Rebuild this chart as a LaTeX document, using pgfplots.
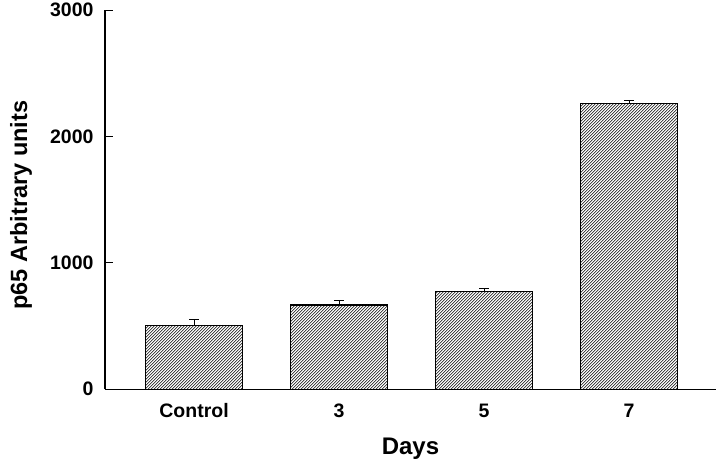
\documentclass[border=0pt]{standalone}
\usepackage{fontspec}
\setmainfont{Liberation Sans}
\usepackage{pgfplots}
\pgfplotsset{compat=1.18}
\usetikzlibrary{patterns}
\begin{document}
\begin{tikzpicture}
\begin{axis}[
  scale only axis,
  width=611pt, height=379pt,
  xmin=-0.614, xmax=3.6, ymin=0, ymax=3000,
  ybar, bar width=97pt,
  axis x line=bottom, axis y line=left,
  axis line style={-, line width=1.2pt, black},
  xtick={0,1,2,3}, xticklabels={Control,3,5,7},
  x tick style={draw=none},
  ytick={0,1000,2000,3000},
  tick align=inside, major tick length=8pt,
  y tick style={line width=1pt, black},
  /pgf/number format/assume math mode=true,
  /pgf/number format/set thousands separator={},
  tick label style={font=\fontsize{19.5}{19.5}\selectfont\bfseries},
  yticklabel style={xshift=-8pt},
  xticklabel style={yshift=-11pt},
  xlabel={Days},
  xlabel style={font=\fontsize{24}{24}\selectfont\bfseries, at={(axis description cs:0.5,0)}, anchor=north, inner sep=0pt, yshift=-49pt},
  ylabel={p65 Arbitrary units},
  ylabel style={font=\fontsize{23.5}{23.5}\selectfont\bfseries, at={(axis description cs:-0.1555,0.4855)}, rotate=0, anchor=north, inner sep=0pt},
]
\addplot[draw=black, line width=1.2pt, pattern=north east lines, pattern color=black,
  error bars/.cd, y dir=plus, y explicit,
  error bar style={line width=1pt, black},
  error mark options={rotate=90, mark size=5pt, line width=1pt, black}]
  coordinates {(0,504) +- (0,45) (1,667) +- (0,35) (2,776) +- (0,20) (3,2262) +- (0,24)};
\end{axis}
\path (current axis.south west) ++(-105pt,-73pt) rectangle ([shift={(4pt,7pt)}]current axis.north east);
\end{tikzpicture}
\end{document}
